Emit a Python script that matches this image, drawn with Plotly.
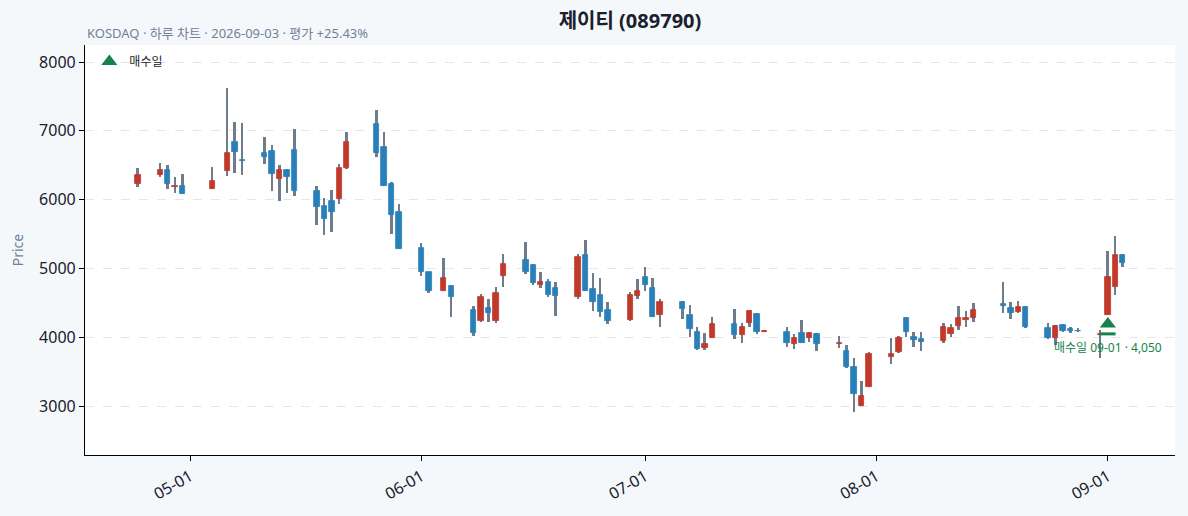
import pandas as pd
import plotly.graph_objects as go

dates = ['2026-04-24', '2026-04-27', '2026-04-28', '2026-04-29', '2026-04-30',
         '2026-05-04', '2026-05-06', '2026-05-07', '2026-05-08',
         '2026-05-11', '2026-05-12', '2026-05-13', '2026-05-14', '2026-05-15',
         '2026-05-18', '2026-05-19', '2026-05-20', '2026-05-21', '2026-05-22',
         '2026-05-26', '2026-05-27', '2026-05-28', '2026-05-29',
         '2026-06-01', '2026-06-02', '2026-06-04', '2026-06-05',
         '2026-06-08', '2026-06-09', '2026-06-10', '2026-06-11', '2026-06-12',
         '2026-06-15', '2026-06-16', '2026-06-17', '2026-06-18', '2026-06-19',
         '2026-06-22', '2026-06-23', '2026-06-24', '2026-06-25', '2026-06-26',
         '2026-06-29', '2026-06-30', '2026-07-01', '2026-07-02', '2026-07-03',
         '2026-07-06', '2026-07-07', '2026-07-08', '2026-07-09', '2026-07-10',
         '2026-07-13', '2026-07-14', '2026-07-15', '2026-07-16', '2026-07-17',
         '2026-07-20', '2026-07-21', '2026-07-22', '2026-07-23', '2026-07-24',
         '2026-07-27', '2026-07-28', '2026-07-29', '2026-07-30', '2026-07-31',
         '2026-08-03', '2026-08-04', '2026-08-05', '2026-08-06', '2026-08-07',
         '2026-08-10', '2026-08-11', '2026-08-12', '2026-08-13', '2026-08-14',
         '2026-08-18', '2026-08-19', '2026-08-20', '2026-08-21',
         '2026-08-24', '2026-08-25', '2026-08-26', '2026-08-27', '2026-08-28',
         '2026-08-31', '2026-09-01', '2026-09-02', '2026-09-03']

opens = [6225, 6360, 6430, 6190, 6195,
         6160, 6420, 6840, 6575,
         6675, 6705, 6295, 6430, 6720,
         6125, 5910, 5980, 6005, 6455,
         7100, 6760, 6225, 5815,
         5295, 4945, 4680, 4745,
         4395, 4240, 4420, 4240, 4895,
         5125, 5050, 4760, 4810, 4720,
         4590, 5195, 4695, 4610, 4395,
         4245, 4605, 4870, 4710, 4325,
         4510, 4320, 4080, 3840, 3990,
         4195, 4040, 4215, 4335, 4080,
         4075, 3900, 4060, 3985, 4045,
         3905, 3800, 3565, 3005, 3285,
         3710, 3780, 4285, 4010, 3975,
         3950, 4045, 4170, 4250, 4275,
         4485, 4425, 4365, 4445,
         4130, 3995, 4180, 4120, 4095,
         4030, 4330, 4725, 5195]

highs = [6455, 6530, 6500, 6335, 6370,
         6470, 7620, 7125, 7110,
         6915, 6790, 6500, 6440, 7020,
         6205, 6020, 6140, 6515, 6980,
         7300, 6980, 6250, 5930,
         5365, 4955, 5150, 4760,
         4455, 4625, 4550, 4725, 5205,
         5380, 5065, 4945, 4845, 4810,
         5210, 5415, 4930, 4855, 4510,
         4660, 4845, 5015, 4855, 4550,
         4525, 4465, 4145, 4060, 4300,
         4405, 4205, 4395, 4350, 4095,
         4145, 4045, 4250, 4080, 4060,
         4020, 3890, 3695, 3365, 3780,
         3985, 4020, 4290, 4080, 4080,
         4205, 4195, 4460, 4385, 4495,
         4800, 4515, 4525, 4455,
         4205, 4180, 4195, 4145, 4140,
         4100, 5260, 5470, 5210]

lows = [6180, 6325, 6150, 6090, 6075,
        6160, 6350, 6385, 6355,
        6520, 6125, 5980, 6090, 6055,
        5630, 5485, 5525, 5930, 6440,
        6615, 6200, 5500, 5285,
        4890, 4650, 4675, 4290,
        4020, 4220, 4225, 4210, 4725,
        4920, 4760, 4710, 4590, 4315,
        4550, 4670, 4380, 4300, 4190,
        4240, 4550, 4675, 4300, 4145,
        4260, 4000, 3815, 3820, 3985,
        3970, 3915, 4145, 4045, 4080,
        3865, 3825, 3915, 3925, 3805,
        3840, 3550, 2920, 3000, 3280,
        3610, 3765, 4000, 3865, 3800,
        3920, 4010, 4105, 4155, 4225,
        4350, 4260, 4360, 4130,
        3970, 3890, 4080, 4065, 4070,
        3700, 4320, 4615, 5025]

closes = [6355, 6430, 6225, 6200, 6080,
          6270, 6675, 6695, 6560,
          6625, 6370, 6430, 6335, 6120,
          5895, 5725, 5825, 6460, 6840,
          6675, 6200, 5775, 5285,
          4955, 4680, 4855, 4590,
          4060, 4580, 4350, 4640, 5065,
          4955, 4785, 4800, 4615, 4605,
          5170, 4680, 4510, 4365, 4240,
          4610, 4670, 4755, 4300, 4510,
          4410, 4115, 3830, 3900, 4195,
          4030, 4145, 4380, 4080, 4090,
          3920, 3985, 3915, 4060, 3900,
          3915, 3575, 3170, 3145, 3755,
          3755, 3985, 4075, 3960, 3930,
          4145, 4130, 4275, 4275, 4395,
          4460, 4350, 4435, 4155,
          3995, 4170, 4095, 4085, 4090,
          4050, 4870, 5195, 5080]

buy_date = '2026-09-01'
buy_price = 4050

df = pd.DataFrame({'date': pd.to_datetime(dates), 'open': opens, 'high': highs,
                   'low': lows, 'close': closes})
up = df['close'] >= df['open']

font_kr = 'Noto Sans, Noto Sans CJK KR, sans-serif'
red = '#c0392b'
blue = '#2980b9'
green = '#15834b'
grey = '#718096'
body_colors = [red if u else blue for u in up]

day_ms = 24 * 3600 * 1000
fig = go.Figure()
# wicks: thin grey bars from low to high, drawn under the bodies
fig.add_trace(go.Bar(x=df['date'], y=df['high'] - df['low'], base=df['low'],
                     width=0.26 * day_ms, marker=dict(color='#6e7c8c', line_width=0),
                     hoverinfo='skip', showlegend=False))
# bodies
fig.add_trace(go.Bar(x=df['date'], y=df['close'] - df['open'], base=df['open'],
                     width=0.72 * day_ms,
                     marker=dict(color=body_colors, line=dict(color=body_colors, width=0.8)),
                     showlegend=False))

fig.add_trace(go.Scatter(x=[buy_date], y=[buy_price * 1.035], mode='markers',
                         marker=dict(symbol='triangle-up', size=14, color=green),
                         name='매수일'))
fig.add_trace(go.Scatter(x=[buy_date], y=[buy_price], mode='markers',
                         marker=dict(symbol='line-ew', size=11, line=dict(color=green, width=3)),
                         showlegend=False, hoverinfo='skip'))

fig.add_annotation(x=buy_date, y=buy_price, text='매수일 09-01 · 4,050',
                   showarrow=False, yanchor='top', yshift=-3,
                   font=dict(size=12, color=green, family=font_kr))

fig.add_annotation(xref='paper', yref='paper', x=0, y=1.003, xanchor='left', yanchor='bottom',
                   text='KOSDAQ · 하루 차트 · 2026-09-03 · 평가 +25.43%', showarrow=False,
                   font=dict(size=13, color=grey, family=font_kr))

fig.update_layout(
    title=dict(text='<b>제이티 (089790)</b>', x=0.5, xref='paper', xanchor='center',
               y=0.959, yref='container', yanchor='middle',
               font=dict(size=20, color='#1a202c', family=font_kr)),
    width=1188, height=516,
    margin=dict(l=85, r=13, t=45, b=61),
    paper_bgcolor='#f5f8fb',
    plot_bgcolor='white',
    font=dict(family=font_kr, size=16, color='#1a202c'),
    barmode='overlay',
    bargap=0,
    legend=dict(x=0.004, y=0.995, xanchor='left', yanchor='top', bgcolor='rgba(0,0,0,0)',
                font=dict(size=12, family=font_kr)),
    showlegend=True,
)
fig.update_xaxes(type='date', range=['2026-04-16 22:00', '2026-09-10'],
                 tick0='2026-05-01', dtick='M1', tickformat='%m-%d', tickangle=-30,
                 showgrid=False, showline=True, linecolor='black', linewidth=1.2,
                 ticks='outside', ticklen=5, tickcolor='black', zeroline=False)
fig.update_yaxes(range=[2290, 8247], dtick=1000, tick0=3000,
                 showgrid=True, gridcolor='#e6e6e6', griddash='dash', gridwidth=1,
                 showline=True, linecolor='black', linewidth=1.2,
                 ticks='outside', ticklen=5, tickcolor='black', zeroline=False,
                 title=dict(text='Price', font=dict(size=14, color=grey), standoff=12))

fig.write_html('out.html', config={'displayModeBar': False},
               post_script="document.body.style.margin='0';")
